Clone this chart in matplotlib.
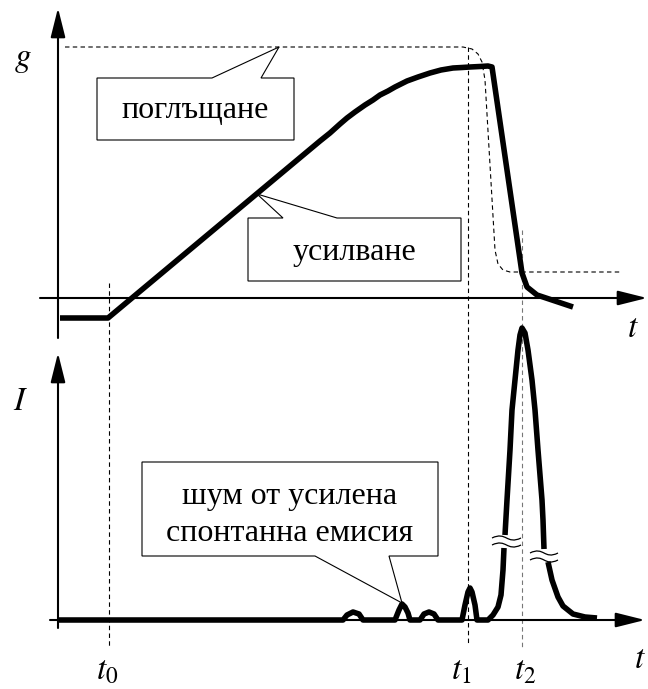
import matplotlib
matplotlib.use("Agg")
import matplotlib.pyplot as plt
from matplotlib.path import Path
from matplotlib.patches import PathPatch, Polygon

plt.rcParams['mathtext.fontset'] = 'stix'

# --- data (picture coordinates, y downwards) ---
# gain curve g(t), thick
gain_t = [60, 108, 320, 330, 340, 347, 355, 365, 373, 380, 388, 395, 401, 407, 418,
          430, 441, 453, 462, 470, 480, 488, 492, 522, 527, 537, 573]
gain_g = [318, 318, 141, 133, 124, 118, 112, 105, 100, 95, 91, 87, 84, 81, 77,
          73, 70, 68, 67.5, 67, 66.5, 66, 67, 273, 287, 295, 307]

# absorption curve, thin dashed
abs_t = [65, 463, 472, 478, 482, 485, 495, 498, 503, 510, 620]
abs_g = [47, 47, 49, 54, 62, 80, 250, 264, 270, 272, 272]

# intensity I(t): baseline + noise bumps + pulse start (left lower part)
int_t_low = [58, 343, 347, 353, 359, 363, 395, 399, 402, 405, 408, 410,
             420, 424, 429, 434, 438, 462, 465, 468, 470, 472, 475, 477,
             488, 493, 498, 501, 503, 504]
int_i_low = [620, 620, 615, 612, 614, 620, 620, 610, 604, 607, 613, 620,
             620, 614, 612, 614, 620, 620, 605, 592, 588, 592, 605, 620,
             620, 615, 607, 595, 570, 548]
# pulse top part (between the breaks)
int_t_top = [505, 507, 510, 512, 515, 518, 520, 522, 525, 528, 532, 535, 538, 542, 543, 544]
int_i_top = [535, 500, 450, 410, 380, 350, 335, 328, 333, 350, 380, 410, 450, 500, 520, 549]
# pulse tail (right lower part)
int_t_tail = [548, 552, 558, 563, 573, 585, 597]
int_i_tail = [562, 580, 597, 606, 614, 617, 618]

# break marks (x start, x end, y) - two per break
break_marks = [(492, 521, 538), (492, 521, 545), (530, 558, 553), (530, 558, 560)]

# characteristic times
t_marks = ['$t_0$', '$t_1$', '$t_2$']
t_x = [109, 468, 522]
t_top = [283, 47, 230]
t_bottom = [648, 643, 647]
t_colors = ['black', 'black', '#777777']
t_label_x = [107, 461, 525]

# callouts: box (left, top, right, bottom), pointer base on edge, tip
callout_lines = [['поглъщане'], ['усилване'], ['шум от усилена', 'спонтанна емисия']]
callout_baselines = [[118], [260], [504, 541]]
callout_box = [(97, 78, 294, 140), (248, 218, 461, 281), (142, 462, 438, 556)]
callout_base = [(212, 261), (283, 337), (315, 389)]
callout_tip = [(279, 47), (257, 194), (402, 603)]
callout_side = ['top', 'top', 'bottom']

fig = plt.figure(figsize=(6.48, 6.89), dpi=100)
ax = fig.add_axes([0, 0, 1, 1])
ax.set_xlim(0, 648)
ax.set_ylim(689, 0)
ax.axis('off')

thick = 4.0
arrow = dict(arrowstyle='-|>,head_length=1.2,head_width=0.3', lw=1.5, color='black',
             mutation_scale=15, shrinkA=0, shrinkB=0)

# axes with arrows
ax.annotate('', xy=(58, 8), xytext=(58, 338), arrowprops=arrow)
ax.annotate('', xy=(647, 298), xytext=(40, 298), arrowprops=arrow)
ax.annotate('', xy=(58, 353), xytext=(58, 628), arrowprops=arrow)
ax.annotate('', xy=(645, 620), xytext=(50, 620), arrowprops=arrow)

# dashed time markers
for x, y0, y1, c in zip(t_x, t_top, t_bottom, t_colors):
    ax.plot([x, x], [y0, y1], color=c, lw=0.8, ls=(0, (4, 3)), zorder=1)

# absorption and gain
ax.plot(abs_t, abs_g, color='black', lw=0.8, ls=(0, (4, 3)), zorder=2)
ax.plot(gain_t, gain_g, color='black', lw=thick, solid_joinstyle='round',
        solid_capstyle='butt', zorder=3)

# intensity
for xs, ys in [(int_t_low, int_i_low), (int_t_top, int_i_top), (int_t_tail, int_i_tail)]:
    ax.plot(xs, ys, color='black', lw=thick, solid_joinstyle='round',
            solid_capstyle='butt', zorder=3)

# break marks (tilde shapes)
for x0, x1, y in break_marks:
    xm = (x0 + x1) / 2
    p = Path([(x0, y), (xm, y - 7), (xm, y + 7), (x1, y)],
             [Path.MOVETO, Path.CURVE4, Path.CURVE4, Path.CURVE4])
    ax.add_patch(PathPatch(p, fc='none', ec='black', lw=0.9, zorder=4))

# callouts
for lines, bls, (l, t, r, b), (p0, p1), tip, side in zip(callout_lines, callout_baselines,
                                                         callout_box, callout_base,
                                                         callout_tip, callout_side):
    if side == 'top':
        verts = [(l, b), (l, t), (p0, t), tip, (p1, t), (r, t), (r, b)]
    else:
        verts = [(l, t), (r, t), (r, b), (p1, b), tip, (p0, b), (l, b)]
    ax.add_patch(Polygon(verts, closed=True, fc='white', ec='black', lw=0.8, zorder=5))
    for txt, bl in zip(lines, bls):
        ax.text((l + r) / 2, bl, txt, ha='center', va='baseline',
                family='Liberation Serif', fontsize=23, zorder=6)

# axis labels
ax.text(23, 66, '$g$', ha='center', va='baseline', fontsize=24)
ax.text(21, 410, '$I$', ha='center', va='baseline', fontsize=24)
ax.text(633, 337, '$t$', ha='center', va='baseline', fontsize=24)
ax.text(640, 668, '$t$', ha='center', va='baseline', fontsize=24)
for lab, x in zip(t_marks, t_label_x):
    ax.text(x, 680, lab, ha='center', va='baseline', fontsize=24)

fig.savefig('out.png', dpi=100)
